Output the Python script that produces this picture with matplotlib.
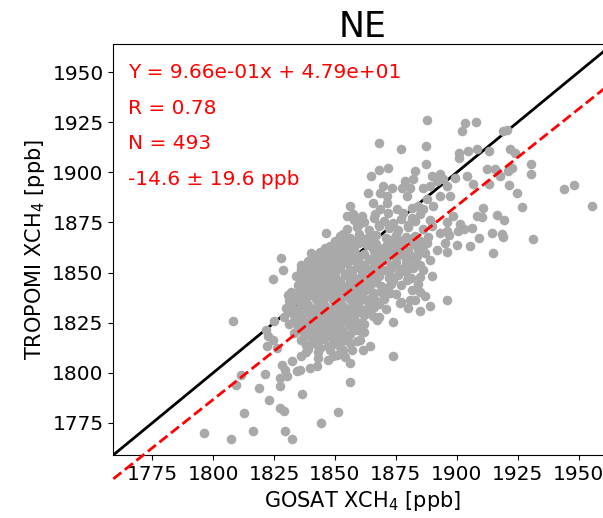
import numpy as np
import matplotlib
matplotlib.use("Agg")
import matplotlib.pyplot as plt

# GOSAT (x) and TROPOMI (y) XCH4 collocations for the NE region, ppb.
# Sparse points above the 1:1 band
upper_gosat = [
    1887.9, 1903.4, 1902.1, 1907.9, 1868.1, 1877.1, 1887.4, 1887.4,
    1900.7, 1904.8, 1908.2, 1900.7, 1864.7, 1868.1, 1871.9, 1882.9,
    1882.2, 1878.7, 1889.7, 1893.1, 1894.5, 1891.8, 1895.9, 1899.3,
    1904.1, 1869.9, 1873.3, 1868.5, 1863.7, 1871.2, 1877.4, 1880.8,
    1879.4, 1886.3, 1889.0, 1893.1, 1887.7, 1890.4, 1856.2, 1857.5,
    1861.0, 1854.8, 1865.7, 1868.5, 1871.2, 1866.4, 1871.9, 1875.3,
    1878.0, 1881.5, 1884.2, 1884.9, 1881.5, 1886.3, 1901.3, 1900.6,
    1906.1, 1895.9, 1898.6, 1908.2, 1905.4, 1893.1, 1906.8, 1897.2,
]
upper_tropomi = [
    1926.2, 1924.5, 1920.7, 1925.2, 1914.8, 1911.5, 1913.2, 1904.3,
    1909.8, 1910.7, 1911.5, 1907.3, 1898.2, 1901.2, 1902.3, 1900.7,
    1896.5, 1895.7, 1898.2, 1899.0, 1896.5, 1895.7, 1893.2, 1897.3,
    1898.2, 1893.2, 1892.3, 1889.8, 1889.8, 1888.2, 1892.3, 1892.3,
    1888.2, 1892.3, 1893.2, 1888.2, 1886.5, 1883.2, 1883.2, 1879.0,
    1878.2, 1878.2, 1884.9, 1881.5, 1884.9, 1879.0, 1879.9, 1881.5,
    1879.9, 1882.4, 1883.2, 1879.0, 1877.4, 1881.5, 1874.0, 1870.7,
    1872.3, 1870.7, 1878.2, 1878.2, 1863.2, 1869.9, 1894.0, 1888.2,
]

# High GOSAT values on the right
right_gosat = [
    1919.1, 1920.5, 1913.4, 1921.8, 1923.9, 1930.3, 1930.3, 1912.5,
    1915.7, 1917.7, 1921.2, 1922.5, 1913.4, 1921.6, 1924.6, 1944.0,
    1948.1, 1955.6, 1926.7, 1910.6, 1910.2, 1916.4, 1919.4, 1914.3,
    1918.4, 1919.1, 1931.4, 1915.0,
]
right_tropomi = [
    1920.7, 1921.2, 1910.7, 1911.5, 1909.5, 1904.0, 1899.0, 1901.8,
    1901.5, 1898.2, 1900.7, 1902.3, 1894.0, 1893.7, 1889.8, 1891.5,
    1893.5, 1883.2, 1882.8, 1882.4, 1877.8, 1878.5, 1876.2, 1869.9,
    1869.0, 1867.6, 1866.8, 1859.8,
]

# Points below the fit line in the middle of the range
mid_gosat = [
    1895.9, 1890.0, 1887.0, 1889.0, 1884.9, 1891.8, 1887.7, 1883.6,
    1884.9, 1874.0, 1874.0, 1880.8, 1876.7, 1881.5, 1879.4, 1864.4,
    1861.6, 1860.3, 1858.9, 1856.2, 1856.2, 1872.6, 1865.8, 1867.1,
    1860.3, 1854.1, 1856.2, 1853.4,
]
mid_tropomi = [
    1836.5, 1848.5, 1838.2, 1833.2, 1830.7, 1861.5, 1864.9, 1858.2,
    1854.0, 1825.2, 1808.2, 1836.5, 1834.9, 1841.5, 1846.5, 1813.2,
    1811.5, 1816.5, 1821.5, 1804.9, 1795.2, 1839.9, 1828.2, 1826.5,
    1824.9, 1818.2, 1814.9, 1811.5,
]

# Low values and the left edge of the cloud
low_gosat = [
    1796.2, 1807.3, 1816.4, 1829.5, 1832.5, 1812.5, 1827.5, 1829.0,
    1844.1, 1851.2, 1836.6, 1822.8, 1818.8, 1809.2, 1811.5, 1821.4,
    1827.6, 1828.1, 1832.2, 1834.3, 1830.2, 1827.4, 1835.6, 1829.3,
    1839.7, 1842.5, 1808.3, 1821.6, 1822.6, 1825.0, 1827.7, 1828.6,
    1824.4, 1830.6, 1836.8, 1835.2, 1835.2, 1840.3, 1842.2, 1846.2,
    1850.0, 1853.4, 1850.0, 1824.7, 1822.0, 1826.1, 1834.5,
]
low_tropomi = [
    1769.8, 1766.8, 1771.2, 1770.8, 1767.2, 1780.2, 1782.5, 1781.0,
    1775.2, 1780.7, 1789.2, 1786.2, 1792.5, 1793.7, 1798.7, 1799.5,
    1793.2, 1804.0, 1805.7, 1800.7, 1798.2, 1797.4, 1801.5, 1801.5,
    1802.3, 1803.2, 1826.0, 1821.5, 1818.2, 1826.0, 1857.3, 1851.2,
    1847.0, 1839.0, 1847.3, 1839.0, 1830.2, 1859.8, 1858.2, 1869.5,
    1865.7, 1869.0, 1859.5, 1816.5, 1813.2, 1812.4, 1839.9,
]

# Dense core of the distribution
core_gosat = [
    1858, 1862, 1866, 1870, 1877, 1883, 1889, 1896,
    1855, 1859, 1864, 1868, 1872, 1876, 1880, 1886, 1890, 1903,
    1852, 1856, 1860, 1864, 1867, 1871, 1875, 1879, 1883, 1888, 1897, 1909,
    1848, 1852, 1856, 1860, 1863, 1867, 1871, 1874, 1878, 1882, 1886, 1895, 1900,
    1844, 1847, 1851, 1855, 1858, 1862, 1866, 1869, 1873, 1877, 1880, 1887, 1896,
    1839, 1842, 1846, 1849, 1853, 1857, 1860, 1864, 1868, 1871, 1875, 1879, 1883, 1889,
    1836, 1838, 1841, 1845, 1848, 1852, 1856, 1859, 1863, 1866, 1870, 1874, 1877, 1882, 1886,
    1834, 1837, 1840, 1843, 1847, 1850, 1854, 1858, 1861, 1865, 1868, 1872, 1876, 1881, 1885,
    1835, 1838, 1841, 1844, 1847, 1851, 1855, 1858, 1862, 1865, 1869, 1873, 1877, 1884,
    1832, 1838, 1841, 1845, 1848, 1852, 1855, 1859, 1862, 1866, 1869, 1875, 1885,
    1831, 1834, 1838, 1842, 1845, 1849, 1852, 1856, 1860, 1863, 1867, 1870, 1877, 1883,
    1830, 1834, 1837, 1841, 1844, 1848, 1852, 1855, 1859, 1862, 1866, 1871, 1880,
    1829, 1833, 1836, 1840, 1844, 1847, 1851, 1854, 1858, 1862, 1868,
    1831, 1835, 1838, 1842, 1845, 1849, 1852, 1856, 1862,
    1833, 1837, 1840, 1844, 1847, 1851, 1856, 1861,
    1836, 1841, 1845, 1849, 1853, 1859,
    1839, 1844, 1848, 1852, 1857,
    1836, 1843, 1849, 1854,
    1860, 1868, 1874, 1880,
    1854, 1858, 1862, 1866, 1873, 1877, 1881, 1885,
    1846, 1850, 1854, 1858, 1865, 1869, 1876, 1884,
    1845, 1849, 1852, 1856, 1860, 1867, 1871, 1875, 1881,
    1836, 1840, 1844, 1847, 1851, 1855, 1862, 1866, 1873, 1879,
    1836, 1839, 1843, 1846, 1850, 1854, 1857, 1861, 1868, 1872, 1879,
    1836, 1840, 1842, 1845, 1849, 1852, 1856, 1860, 1863, 1867, 1874,
    1836, 1839, 1843, 1846, 1850, 1853, 1857, 1860, 1864, 1871,
    1833, 1836, 1840, 1843, 1847, 1850, 1854, 1858, 1861, 1865,
    1832, 1836, 1839, 1843, 1846, 1850, 1853, 1857, 1864, 1868,
    1832, 1835, 1839, 1842, 1846, 1849, 1853, 1857, 1860, 1864,
    1833, 1837, 1840, 1844, 1847, 1851, 1854, 1858,
    1835, 1839, 1842, 1846, 1849, 1853, 1858,
    1838, 1843, 1847, 1851,
    1838, 1842, 1847, 1851,
    1843, 1847, 1851, 1838, 1862,
]
core_tropomi = [
    1876.4, 1875.2, 1877.1, 1875.8, 1876.9, 1875.5, 1876.2, 1875.0,
    1871.6, 1872.8, 1871.2, 1873.0, 1872.1, 1871.4, 1872.7, 1871.9, 1873.3, 1871.5,
    1868.3, 1867.2, 1869.0, 1867.8, 1868.6, 1867.1, 1868.9, 1867.5, 1868.2, 1867.6, 1868.8, 1867.3,
    1863.5, 1864.6, 1863.1, 1864.9, 1863.8, 1864.2, 1863.4, 1865.0, 1863.6, 1864.4, 1863.2, 1864.7, 1863.9,
    1860.2, 1859.4, 1861.0, 1859.8, 1860.6, 1859.2, 1860.9, 1859.6, 1860.4, 1859.1, 1860.7, 1859.9, 1860.3,
    1855.7, 1856.5, 1855.3, 1856.8, 1855.9, 1856.2, 1855.1, 1856.9, 1855.6, 1856.4, 1855.2, 1856.7, 1855.8, 1856.1,
    1851.8, 1852.6, 1851.3, 1852.9, 1851.5, 1852.3, 1851.1, 1852.8, 1851.7, 1852.4, 1851.2, 1852.7, 1851.9, 1852.2, 1851.4,
    1848.4, 1847.6, 1848.8, 1847.3, 1848.1, 1847.9, 1848.6, 1847.2, 1848.9, 1847.7, 1848.3, 1847.5, 1848.7, 1847.4, 1848.0,
    1843.7, 1844.5, 1843.2, 1844.8, 1843.9, 1844.3, 1843.1, 1844.6, 1843.5, 1844.9, 1843.4, 1844.2, 1843.8, 1844.4,
    1840.3, 1839.5, 1840.8, 1839.2, 1840.6, 1839.8, 1840.1, 1839.4, 1840.9, 1839.7, 1840.4, 1839.1, 1840.2,
    1835.6, 1836.4, 1835.2, 1836.7, 1835.9, 1836.3, 1835.1, 1836.8, 1835.5, 1836.1, 1835.8, 1836.6, 1835.3, 1836.2,
    1832.2, 1831.4, 1832.8, 1831.6, 1832.5, 1831.2, 1832.9, 1831.8, 1832.3, 1831.5, 1832.6, 1831.9, 1832.1,
    1827.8, 1828.6, 1827.3, 1828.9, 1827.5, 1828.2, 1827.9, 1828.4, 1827.1, 1828.7, 1827.6,
    1824.4, 1823.6, 1824.8, 1823.2, 1824.1, 1823.9, 1824.6, 1823.4, 1824.3,
    1819.7, 1820.5, 1819.3, 1820.8, 1819.9, 1820.2, 1819.5, 1820.6,
    1816.3, 1815.6, 1816.8, 1815.4, 1816.1, 1815.9,
    1811.8, 1812.5, 1811.4, 1812.7, 1811.6,
    1808.2, 1807.5, 1808.6, 1807.8,
    1874.2, 1873.6, 1874.5, 1873.8,
    1866.3, 1865.7, 1866.6, 1865.4, 1866.1, 1865.9, 1866.5, 1865.6,
    1862.4, 1861.7, 1862.2, 1861.5, 1862.6, 1861.9, 1862.3, 1861.8,
    1858.1, 1857.6, 1858.5, 1857.8, 1858.3, 1857.4, 1858.7, 1857.9, 1858.2,
    1853.8, 1854.4, 1853.5, 1854.2, 1853.9, 1854.6, 1853.6, 1854.1, 1853.7, 1854.3,
    1850.2, 1849.6, 1850.5, 1849.8, 1850.3, 1849.5, 1850.7, 1849.9, 1850.4, 1849.7, 1850.1,
    1846.3, 1845.6, 1846.8, 1845.4, 1846.1, 1845.9, 1846.5, 1845.7, 1846.2, 1845.5, 1846.4,
    1841.8, 1842.4, 1841.5, 1842.7, 1841.9, 1842.2, 1841.6, 1842.5, 1841.7, 1842.3,
    1838.3, 1837.7, 1838.6, 1837.5, 1838.1, 1837.9, 1838.4, 1837.6, 1838.2, 1837.8,
    1833.7, 1834.3, 1833.9, 1834.6, 1833.5, 1834.2, 1833.8, 1834.4, 1833.6, 1834.1,
    1830.4, 1829.7, 1830.2, 1829.5, 1830.6, 1829.8, 1830.3, 1829.6, 1830.5, 1829.9,
    1825.8, 1826.4, 1825.5, 1826.2, 1825.9, 1826.6, 1825.7, 1826.3,
    1822.3, 1821.6, 1822.5, 1821.8, 1822.1, 1821.5, 1822.4,
    1818.2, 1817.6, 1818.5, 1817.9,
    1813.8, 1814.4, 1813.6, 1814.2,
    1810.3, 1806.2, 1808.8, 1810.6, 1820.4,
]

# Regression statistics
slope = 0.966
intercept = 47.9
r_value = 0.78
n_points = 493
bias_mean = -14.6
bias_std = 19.6

axis_lim = (1759, 1964)
tick_values = [1775, 1800, 1825, 1850, 1875, 1900, 1925, 1950]

gosat = np.concatenate([upper_gosat, right_gosat, mid_gosat, low_gosat, core_gosat])
tropomi = np.concatenate([upper_tropomi, right_tropomi, mid_tropomi, low_tropomi, core_tropomi])

fig = plt.figure(figsize=(6.03, 5.18), dpi=100)
ax = fig.add_axes([0.1879, 0.1216, 0.8282, 0.7934])

# 1:1 reference line underneath the points
ax.plot(axis_lim, axis_lim, color="black", lw=2, zorder=1)
ax.scatter(gosat, tropomi, s=48, color="darkgray", linewidths=0, zorder=2)

# Linear fit, drawn across the full axis range
fit_x = np.array(axis_lim, dtype=float)
ax.plot(fit_x, slope * fit_x + intercept, color="red", ls="--", lw=2,
        clip_on=False, zorder=3)

ax.set_xlim(axis_lim)
ax.set_ylim(axis_lim)
ax.set_xticks(tick_values)
ax.set_yticks(tick_values)
ax.tick_params(labelsize=14.5)

ax.set_xlabel("GOSAT XCH$_4$ [ppb]", fontsize=15)
ax.set_ylabel("TROPOMI XCH$_4$ [ppb]", fontsize=15)
ax.set_title("NE", fontsize=25, pad=4)

stat_lines = [
    f"Y = {slope:.2e}x + {intercept:.2e}",
    f"R = {r_value:.2f}",
    f"N = {n_points}",
    f"{bias_mean:.1f} \u00b1 {bias_std:.1f} ppb",
]
for line, ypos in zip(stat_lines, [0.9165, 0.8297, 0.7438, 0.6569]):
    ax.text(0.03, ypos, line, transform=ax.transAxes, color="red",
            fontsize=14.5, va="baseline", ha="left")

fig.savefig("out.png", dpi=100)
